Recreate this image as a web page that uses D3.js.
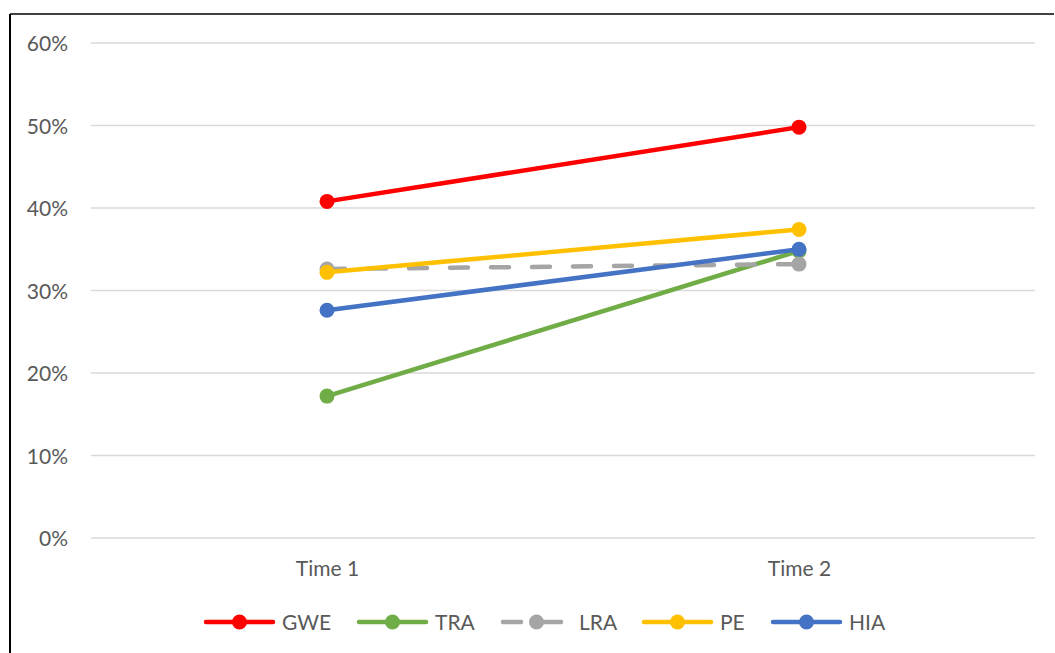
<!DOCTYPE html>
<html>
<head>
<meta charset="utf-8">
<script src="https://cdn.jsdelivr.net/npm/d3@7"></script>
<style>
  html, body { margin: 0; padding: 0; background: #fff; }
  svg { display: block; }
  text { font-family: Lato, "Open Sans", sans-serif; fill: #595959; }
</style>
</head>
<body>
<svg id="chart" width="1055" height="653"></svg>
<script>
// Categories along the x axis
const categories = ["Time 1", "Time 2"];

// Series values (fractions)
const seriesNames = ["GWE", "TRA", "LRA", "PE", "HIA"];
const gweValues = [0.408, 0.498];
const traValues = [0.172, 0.348];
const lraValues = [0.326, 0.332];
const peValues  = [0.322, 0.374];
const hiaValues = [0.276, 0.350];

// Y-axis ticks
const yTicks = [0, 0.1, 0.2, 0.3, 0.4, 0.5, 0.6];

const series = [
  { name: seriesNames[0], values: gweValues, color: "#FF0000", dashed: false },
  { name: seriesNames[1], values: traValues, color: "#70AD47", dashed: false },
  { name: seriesNames[2], values: lraValues, color: "#A5A5A5", dashed: true },
  { name: seriesNames[3], values: peValues,  color: "#FFC000", dashed: false },
  { name: seriesNames[4], values: hiaValues, color: "#4472C4", dashed: false }
];

const FONT = 21;
const svg = d3.select("#chart");

// Chart frame (left and top edges)
svg.append("line").attr("x1", 10).attr("y1", 14).attr("x2", 1054).attr("y2", 14)
  .attr("stroke", "#000").attr("stroke-width", 1.5);
svg.append("line").attr("x1", 10).attr("y1", 14).attr("x2", 10).attr("y2", 653)
  .attr("stroke", "#000").attr("stroke-width", 2);

const plot = { left: 91, right: 1035, top: 43, bottom: 538 };

const x = d3.scalePoint()
  .domain(categories)
  .range([plot.left, plot.right])
  .padding(0.5);

const y = d3.scaleLinear()
  .domain([0, 0.6])
  .range([plot.bottom, plot.top]);

// Horizontal gridlines
svg.append("g")
  .selectAll("line")
  .data(yTicks)
  .join("line")
  .attr("x1", plot.left).attr("x2", plot.right)
  .attr("y1", d => y(d)).attr("y2", d => y(d))
  .attr("stroke", "#D9D9D9").attr("stroke-width", 1.3);

// Y axis labels
const yAxis = d3.axisLeft(y).tickValues(yTicks).tickFormat(d3.format(".0%")).tickSize(0).tickPadding(0);
const yg = svg.append("g").attr("transform", `translate(68,0)`).call(yAxis);
yg.select(".domain").remove();
yg.selectAll("text").attr("font-size", FONT).attr("fill", "#595959")
  .attr("font-family", "Lato, 'Open Sans', sans-serif").attr("dy", "0.36em");

// X axis labels
const xAxis = d3.axisBottom(x).tickSize(0).tickPadding(0);
const xg = svg.append("g").attr("transform", `translate(0,576)`).call(xAxis);
xg.select(".domain").remove();
xg.selectAll("text").attr("font-size", FONT).attr("fill", "#595959")
  .attr("font-family", "Lato, 'Open Sans', sans-serif").attr("dy", "0");

// Lines and markers
const line = d3.line()
  .x((d, i) => x(categories[i]))
  .y(d => y(d));

series.forEach(s => {
  const g = svg.append("g");
  g.append("path")
    .attr("d", line(s.values))
    .attr("fill", "none")
    .attr("stroke", s.color)
    .attr("stroke-width", 4.5)
    .attr("stroke-linecap", "round")
    .attr("stroke-dasharray", s.dashed ? "18,23" : null);
  g.selectAll("circle")
    .data(s.values)
    .join("circle")
    .attr("cx", (d, i) => x(categories[i]))
    .attr("cy", d => y(d))
    .attr("r", 7.5)
    .attr("fill", s.color);
});

// Legend
const legendX = [204, 357, 501, 642, 771];
const legendY = 622;
const keyW = 71;
series.forEach((s, i) => {
  const lx = legendX[i];
  const g = svg.append("g");
  if (s.dashed) {
    g.append("line").attr("x1", lx + 2).attr("x2", lx + 20).attr("y1", legendY).attr("y2", legendY)
      .attr("stroke", s.color).attr("stroke-width", 4.5).attr("stroke-linecap", "round");
    g.append("line").attr("x1", lx + 40).attr("x2", lx + 60).attr("y1", legendY).attr("y2", legendY)
      .attr("stroke", s.color).attr("stroke-width", 4.5).attr("stroke-linecap", "round");
  } else {
    g.append("line").attr("x1", lx + 2).attr("x2", lx + keyW - 2).attr("y1", legendY).attr("y2", legendY)
      .attr("stroke", s.color).attr("stroke-width", 4.5).attr("stroke-linecap", "round");
  }
  g.append("circle").attr("cx", lx + keyW / 2).attr("cy", legendY).attr("r", 7.5)
    .attr("fill", s.color);
  g.append("text")
    .attr("x", lx + keyW + 7)
    .attr("y", legendY)
    .attr("dy", "0.36em")
    .attr("font-size", FONT)
    .text(s.name);
});
</script>
</body>
</html>
